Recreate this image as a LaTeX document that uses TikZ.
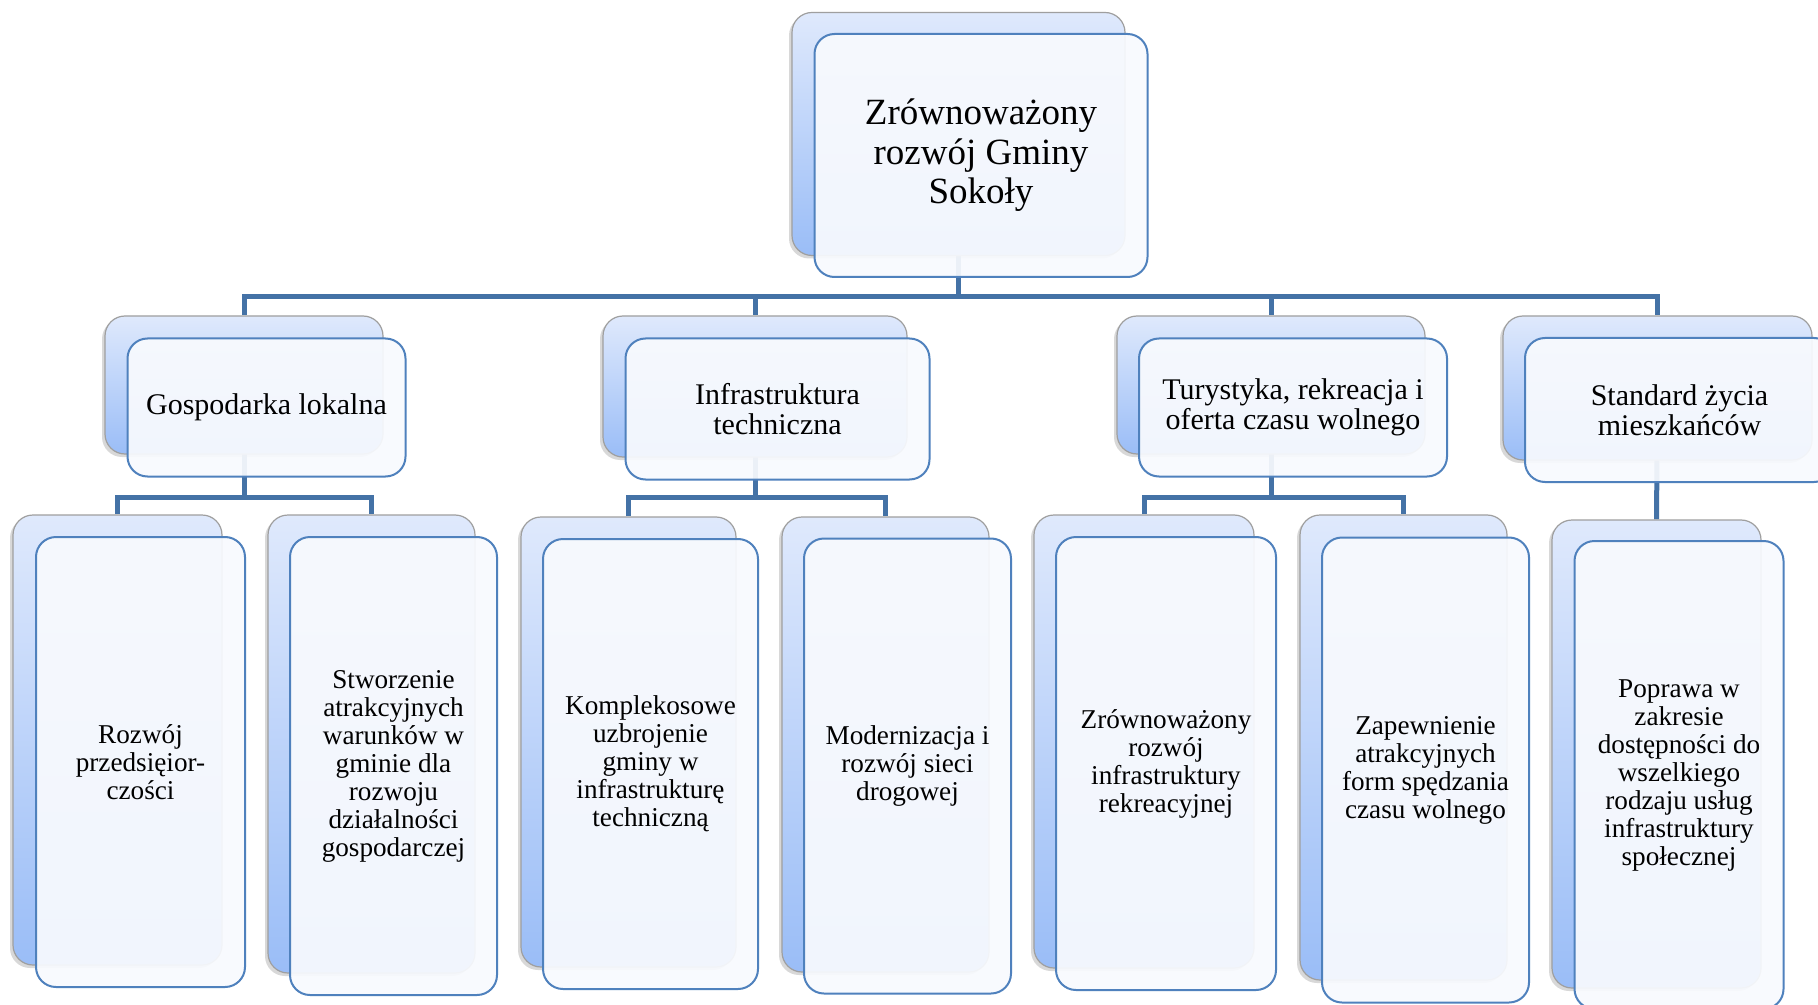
\documentclass[tikz,border=0pt]{standalone}
\usepackage{fontspec}
\setmainfont{Liberation Serif}
\usetikzlibrary{positioning,shadows,backgrounds}

\definecolor{linkblue}{RGB}{68,114,166}
\definecolor{frameblue}{RGB}{79,129,189}
\definecolor{shadetop}{RGB}{223,233,252}
\definecolor{shadebot}{RGB}{154,189,247}
\definecolor{paneface}{RGB}{248,250,254}

\begin{document}
\begin{tikzpicture}[x=0.5pt, y=-0.5pt,
  back/.style 2 args={draw=gray!75, line width=0.6pt, rounded corners=10pt,
    top color=shadetop, bottom color=shadebot, inner sep=0pt,
    minimum width=#1*0.5pt, minimum height=#2*0.5pt,
    drop shadow={shadow xshift=-1.5pt, shadow yshift=-1.5pt, opacity=0.3}},
  front/.style 2 args={draw=frameblue, line width=1pt, rounded corners=10pt,
    fill=paneface, fill opacity=0.93, text opacity=1, inner sep=0pt,
    align=center, minimum width=#1*0.5pt, minimum height=#2*0.5pt},
  toptext/.style={font=\fontsize{18.5pt}{19.75pt}\selectfont},
  midtext/.style={font=\fontsize{15pt}{15pt}\selectfont},
  lowtext/.style={font=\fontsize{13.6pt}{14pt}\selectfont},
  link/.style={draw=linkblue, line width=2.5pt}]

  \useasboundingbox (0,0) rectangle (1818,1005);

  % root
  \node[back={333}{243}] (topb) at (958.5,134) {};
  \node[front={333}{243}, toptext] (top) at ([shift={(22.5,21.5)}]topb) {Zrównoważony\\rozwój Gminy\\Sokoły};

  % second level
  \node[back={278}{138}] (gospb) at (244,385) {};
  \node[front={278}{138}, midtext] (gosp) at ([shift={(22.5,22.5)}]gospb) {Gospodarka lokalna};
  \node[back={304}{141}] (infrab) at (755,386.5) {};
  \node[front={304}{141}, midtext] (infra) at ([shift={(22.5,22.5)}]infrab) {Infrastruktura\\techniczna};
  \node[back={308}{138}] (turb) at (1271,385) {};
  \node[front={308}{138}, midtext] (tur) at ([shift={(22,22.5)}]turb) {Turystyka, rekreacja i\\oferta czasu wolnego};
  \node[back={309}{144}] (stdb) at (1657.5,388) {};
  \node[front={309}{144}, midtext] (std) at ([shift={(22,22)}]stdb) {Standard życia\\mieszkańców};

  % third level
  \node[back={209}{450}] (rozwb) at (117.5,740) {};
  \node[front={209}{450}, lowtext] (rozw) at ([shift={(23,22)}]rozwb) {Rozwój\\przedsięior-\\czości};
  \node[back={207}{458}] (stworzb) at (371.5,744) {};
  \node[front={207}{458}, lowtext] (stworz) at ([shift={(22,22)}]stworzb) {Stworzenie\\atrakcyjnych\\warunków w\\gminie dla\\rozwoju\\działalności\\gospodarczej};
  \node[back={215}{450}] (komplb) at (628.5,742) {};
  \node[front={215}{450}, lowtext] (kompl) at ([shift={(22,22)}]komplb) {Komplekosowe\\uzbrojenie\\gminy w\\infrastrukturę\\techniczną};
  \node[back={207}{455}] (modernb) at (885.5,744.5) {};
  \node[front={207}{455}, lowtext] (modern) at ([shift={(22,21.5)}]modernb) {Modernizacja i\\rozwój sieci\\drogowej};
  \node[back={220}{453}] (zrownb) at (1144,741.5) {};
  \node[front={220}{453}, lowtext] (zrown) at ([shift={(22,22)}]zrownb) {Zrównoważony\\rozwój\\infrastruktury\\rekreacyjnej};
  \node[back={207}{465}] (zapewb) at (1403.5,747.5) {};
  \node[front={207}{465}, lowtext] (zapew) at ([shift={(22,22.5)}]zapewb) {Zapewnienie\\atrakcyjnych\\form spędzania\\czasu wolnego};
  \node[back={209}{468}] (poprb) at (1656.5,754) {};
  \node[front={209}{468}, lowtext] (popr) at ([shift={(22.5,21)}]poprb) {Poprawa w\\zakresie\\dostępności do\\wszelkiego\\rodzaju usług\\infrastruktury\\społecznej};

  \begin{scope}[on background layer]
    \fill[white] (0,0) rectangle (1818,1005);
    \coordinate (bus) at (0,297);
    \coordinate (sub) at (0,497.5);

    \draw[link] (topb.center) -- (topb |- bus);
    \draw[link] (gospb.north) |- (bus -| stdb) -- (stdb.north);
    \draw[link] (infrab |- bus) -- (infrab.north);
    \draw[link] (turb |- bus) -- (turb.north);

    \draw[link] (gospb.center) -- (gospb |- sub);
    \draw[link] (rozwb.north) |- (sub -| stworzb) -- (stworzb.north);
    \draw[link] (infrab.center) -- (infrab |- sub);
    \draw[link] (komplb.north) |- (sub -| modernb) -- (modernb.north);
    \draw[link] (turb.center) -- (turb |- sub);
    \draw[link] (zrownb.north) |- (sub -| zapewb) -- (zapewb.north);
    \draw[link] (stdb.center) -- (poprb.north);
  \end{scope}
\end{tikzpicture}
\end{document}
